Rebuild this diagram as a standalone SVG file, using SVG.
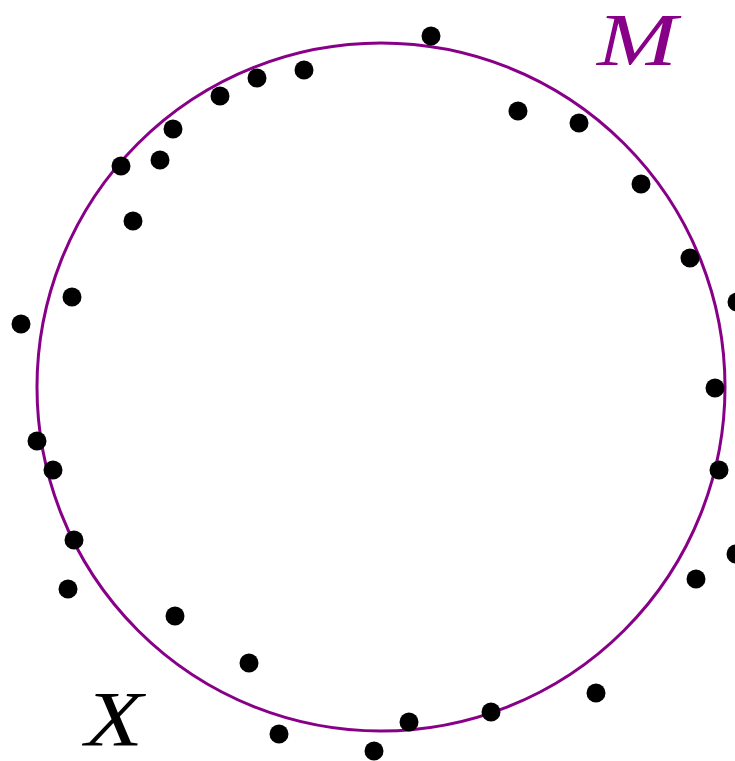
<svg xmlns="http://www.w3.org/2000/svg" width="735" height="761" viewBox="0 0 735 761">
<style>
.pt{fill:#000}
.lbl{font-family:"Liberation Serif","DejaVu Serif",serif;font-style:italic}
</style>
<rect width="735" height="761" fill="#fff"/>
<g id="manifold">
<circle cx="381" cy="387" r="344" fill="none" stroke="#880088" stroke-width="3"/>
</g>
<g id="points">
<circle class="pt" cx="431" cy="36" r="9.5"/>
<circle class="pt" cx="304" cy="70" r="9.5"/>
<circle class="pt" cx="257" cy="78" r="9.5"/>
<circle class="pt" cx="220" cy="96" r="9.5"/>
<circle class="pt" cx="173" cy="129" r="9.5"/>
<circle class="pt" cx="160" cy="160" r="9.5"/>
<circle class="pt" cx="121" cy="166" r="9.5"/>
<circle class="pt" cx="133" cy="221" r="9.5"/>
<circle class="pt" cx="72" cy="297" r="9.5"/>
<circle class="pt" cx="21" cy="324" r="9.5"/>
<circle class="pt" cx="37" cy="441" r="9.5"/>
<circle class="pt" cx="53" cy="470" r="9.5"/>
<circle class="pt" cx="74" cy="540" r="9.5"/>
<circle class="pt" cx="68" cy="589" r="9.5"/>
<circle class="pt" cx="175" cy="616" r="9.5"/>
<circle class="pt" cx="249" cy="663" r="9.5"/>
<circle class="pt" cx="279" cy="734" r="9.5"/>
<circle class="pt" cx="374" cy="751" r="9.5"/>
<circle class="pt" cx="409" cy="722" r="9.5"/>
<circle class="pt" cx="491" cy="712" r="9.5"/>
<circle class="pt" cx="596" cy="693" r="9.5"/>
<circle class="pt" cx="696" cy="579" r="9.5"/>
<circle class="pt" cx="736" cy="554" r="9.5"/>
<circle class="pt" cx="719" cy="470" r="9.5"/>
<circle class="pt" cx="715" cy="388" r="9.5"/>
<circle class="pt" cx="737" cy="302" r="9.5"/>
<circle class="pt" cx="690" cy="258" r="9.5"/>
<circle class="pt" cx="641" cy="184" r="9.5"/>
<circle class="pt" cx="579" cy="123" r="9.5"/>
<circle class="pt" cx="518" cy="111" r="9.5"/>
</g>
<g id="label-M">
<text class="lbl" x="597" y="65" font-size="74" fill="#880088" textLength="80" lengthAdjust="spacingAndGlyphs">M</text>
</g>
<g id="label-X">
<text class="lbl" x="85" y="745" font-size="78" fill="#000" textLength="58" lengthAdjust="spacingAndGlyphs">X</text>
</g>
</svg>
